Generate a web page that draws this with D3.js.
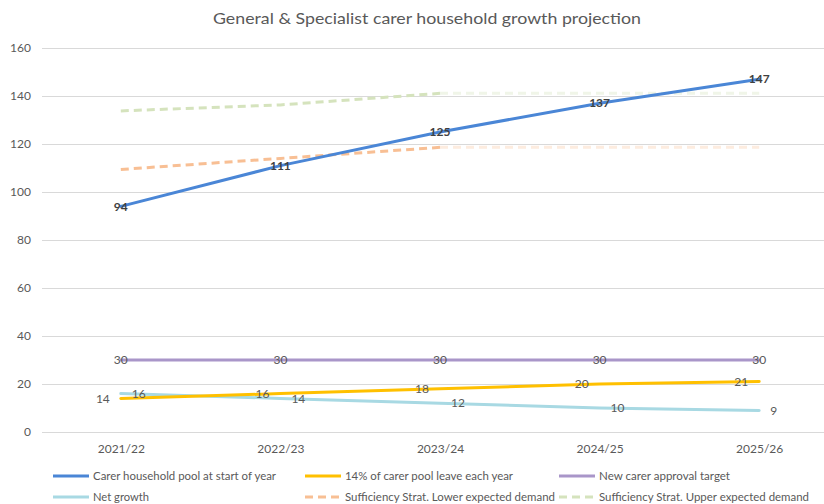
<!DOCTYPE html>
<html>
<head>
<meta charset="utf-8">
<script src="https://cdn.jsdelivr.net/npm/d3@7"></script>
<style>
  html, body { margin: 0; padding: 0; background: #fff; }
  svg { display: block; font-family: Lato, "Liberation Sans", Arial, sans-serif; }
</style>
</head>
<body>
<svg id="chart" width="824" height="504"></svg>
<script>
const categories = ["2021/22", "2022/23", "2023/24", "2024/25", "2025/26"];
const carerPool = [94, 111, 125, 137, 147];
const leaving = [14, 16, 18, 20, 21];
const approvalTarget = [30, 30, 30, 30, 30];
const netGrowth = [16, 14, 12, 10, 9];
const lowerDemand = [109.4, 114.0, 118.6, 118.6, 118.6];
const upperDemand = [133.8, 136.3, 141.1, 141.1, 141.1];
const yTicks = [0, 20, 40, 60, 80, 100, 120, 140, 160];
const titleText = "General & Specialist carer household growth projection";
const legendNames = [
  "Carer household pool at start of year",
  "14% of carer pool leave each year",
  "New carer approval target",
  "Net growth",
  "Sufficiency Strat. Lower expected demand",
  "Sufficiency Strat. Upper expected demand"
];

const FONT = "Lato, \"Liberation Sans\", Arial, sans-serif";
const svg = d3.select("#chart");

const x = d3.scalePoint().domain(categories).range([41, 839]).padding(0.5);
const y = d3.scaleLinear().domain([0, 160]).range([432, 48]);

// Title
svg.append("text")
  .attr("x", 427).attr("y", 24)
  .attr("text-anchor", "middle")
  .attr("font-size", 16)
  .attr("fill", "#595959")
  .attr("textLength", 428).attr("lengthAdjust", "spacingAndGlyphs")
  .text(titleText);

// Gridlines + y axis labels
const yAxis = d3.axisLeft(y).tickValues(yTicks).tickSize(-(839 - 42)).tickPadding(11);
const gy = svg.append("g").attr("transform", "translate(42,0)").call(yAxis);
gy.select(".domain").remove();
gy.selectAll(".tick line").attr("stroke", "#d9d9d9").attr("stroke-width", 1);
gy.selectAll(".tick text").attr("fill", "#595959").attr("font-size", 12)
  .attr("font-family", FONT);

// X axis labels
const xAxis = d3.axisBottom(x).tickSize(0).tickPadding(12);
const gx = svg.append("g").attr("transform", "translate(0,432)").call(xAxis);
gx.select(".domain").remove();
gx.selectAll(".tick text").attr("fill", "#595959").attr("font-size", 12)
  .attr("font-family", FONT);

function drawLine(values, color, opts = {}) {
  svg.append("path")
    .datum(values)
    .attr("fill", "none")
    .attr("stroke", color)
    .attr("stroke-width", opts.width || 3)
    .attr("stroke-linejoin", "round")
    .attr("stroke-linecap", opts.dash ? "butt" : "round")
    .attr("stroke-dasharray", opts.dash || null)
    .attr("opacity", opts.opacity == null ? 1 : opts.opacity)
    .attr("d", d3.line()
      .defined((d, i) => opts.from == null || (i >= opts.from && i <= opts.to))
      .x((d, i) => x(categories[i])).y(d => y(d)));
}

// Dashed demand series: solid through 2023/24, faded afterwards
const orange = "#f8bf94", green = "#d5e3bd";
drawLine(lowerDemand, orange, { dash: "8,5", from: 0, to: 2 });
drawLine(lowerDemand, orange, { dash: "8,5", from: 2, to: 4, opacity: 0.3 });
drawLine(upperDemand, green, { dash: "8,5", from: 0, to: 2 });
drawLine(upperDemand, green, { dash: "8,5", from: 2, to: 4, opacity: 0.35 });

// Main series
drawLine(approvalTarget, "#a996c9");
drawLine(netGrowth, "#a8d9e3");
drawLine(leaving, "#ffc000");
drawLine(carerPool, "#4a86d6");

// Data labels
function labels(values, dx, anchor, opts = {}) {
  svg.append("g").selectAll("text")
    .data(values)
    .join("text")
    .attr("x", (d, i) => x(categories[i]) + dx)
    .attr("y", d => y(d))
    .attr("dy", "0.35em")
    .attr("text-anchor", anchor)
    .attr("font-size", 12)
    .attr("font-weight", opts.bold ? "bold" : "normal")
    .attr("fill", opts.color || "#595959")
    .text(d => d);
}
labels(approvalTarget, 0, "middle");
labels(leaving, -11, "end");
labels(netGrowth, 11, "start");
labels(carerPool, 0, "middle", { bold: true, color: "#404040" });

// Legend
const legendItems = [
  { name: legendNames[0], color: "#4a86d6", sx: 53, row: 0, tl: 183 },
  { name: legendNames[1], color: "#ffc000", sx: 305, row: 0, tl: 168 },
  { name: legendNames[2], color: "#a996c9", sx: 559, row: 0, tl: 131 },
  { name: legendNames[3], color: "#a8d9e3", sx: 53, row: 1, tl: 56 },
  { name: legendNames[4], color: orange, sx: 305, row: 1, tl: 210, dash: "8,5" },
  { name: legendNames[5], color: green, sx: 559, row: 1, tl: 210, dash: "8,5" }
];
const rowY = [476, 497];
const lg = svg.append("g");
legendItems.forEach(it => {
  const yy = rowY[it.row];
  lg.append("line")
    .attr("x1", it.sx).attr("x2", it.sx + 36)
    .attr("y1", yy).attr("y2", yy)
    .attr("stroke", it.color).attr("stroke-width", 3)
    .attr("stroke-dasharray", it.dash || null);
  lg.append("text")
    .attr("x", it.sx + 40).attr("y", yy).attr("dy", "0.35em")
    .attr("font-size", 12).attr("fill", "#595959")
    .attr("textLength", it.tl).attr("lengthAdjust", "spacingAndGlyphs")
    .text(it.name);
});
</script>
</body>
</html>
